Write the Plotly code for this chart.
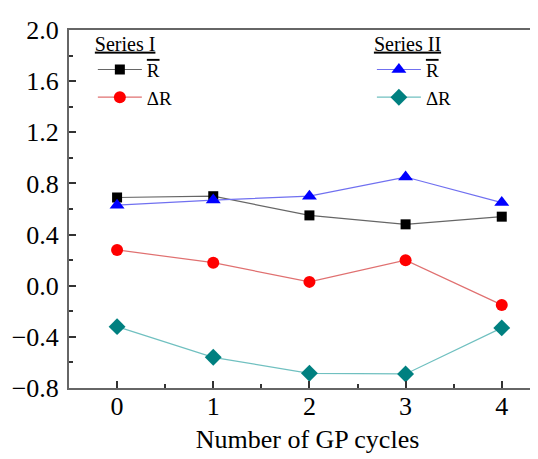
import plotly.graph_objects as go

cycles = [0, 1, 2, 3, 4]
s1_rbar = [0.69, 0.70, 0.55, 0.48, 0.54]
s1_dr = [0.28, 0.18, 0.03, 0.20, -0.15]
s2_rbar = [0.63, 0.67, 0.70, 0.85, 0.65]
s2_dr = [-0.32, -0.56, -0.685, -0.69, -0.33]

FONT = "Liberation Serif, Times New Roman, serif"
RBAR = '<span style="text-decoration:overline">R</span>'

fig = go.Figure()
fig.add_trace(go.Scatter(x=cycles, y=s1_rbar, mode="lines+markers", name=RBAR, legend="legend",
                         line=dict(color="#666666", width=1.2),
                         marker=dict(symbol="square", size=10, color="black")))
fig.add_trace(go.Scatter(x=cycles, y=s1_dr, mode="lines+markers", name="ΔR", legend="legend",
                         line=dict(color="#e07070", width=1.2),
                         marker=dict(symbol="circle", size=12, color="#ff0000")))
fig.add_trace(go.Scatter(x=cycles, y=s2_rbar, mode="lines+markers", name=RBAR, legend="legend2",
                         line=dict(color="#7070f0", width=1.2),
                         marker=dict(symbol="triangle-up", size=13, color="#0000ff")))
fig.add_trace(go.Scatter(x=cycles, y=s2_dr, mode="lines+markers", name="ΔR", legend="legend2",
                         line=dict(color="#70c0c0", width=1.2),
                         marker=dict(symbol="diamond", size=13, color="#008080")))

legend_common = dict(font=dict(family=FONT, size=19, color="black"), bgcolor="rgba(0,0,0,0)",
                     yanchor="top", xanchor="left", tracegroupgap=0, itemwidth=44,
                     title_side="top")
fig.update_layout(
    width=538, height=459,
    margin=dict(l=61, r=0, t=22, b=79),
    plot_bgcolor="white", paper_bgcolor="white",
    font=dict(family=FONT, size=26, color="black"),
    legend=dict(x=0.05, y=1.015,
                title=dict(text='<span style="text-decoration:underline">Series I</span>',
                           font=dict(family=FONT, size=20)), **legend_common),
    legend2=dict(x=0.635, y=1.015,
                 title=dict(text='<span style="text-decoration:underline">Series II</span>',
                            font=dict(family=FONT, size=20)), **legend_common),
    xaxis=dict(range=[-0.5, 4.46], tickvals=cycles, ticks="inside", ticklen=7, tickwidth=1.5,
               tickcolor="#333", showline=True, linecolor="#666666", linewidth=2, mirror=True,
               showgrid=False, zeroline=False, ticklabelstandoff=-6,
               minor=dict(dtick=0.5, ticks="inside", ticklen=4, tickwidth=1.5, tickcolor="#333"),
               title=dict(text="Number of GP cycles", standoff=10, font=dict(family=FONT, size=26)),
               tickfont=dict(family=FONT, size=26)),
    yaxis=dict(range=[-0.8, 2.0], dtick=0.4, tickformat=".1f", ticks="inside", ticklen=7,
               tickwidth=1.5, tickcolor="#333", showline=True, linecolor="#666666", linewidth=2,
               showgrid=False, zeroline=False, ticklabelstandoff=3,
               minor=dict(dtick=0.2, ticks="inside", ticklen=4, tickwidth=1.5, tickcolor="#333"),
               tickfont=dict(family=FONT, size=26)),
)
fig.write_html("out.html")
